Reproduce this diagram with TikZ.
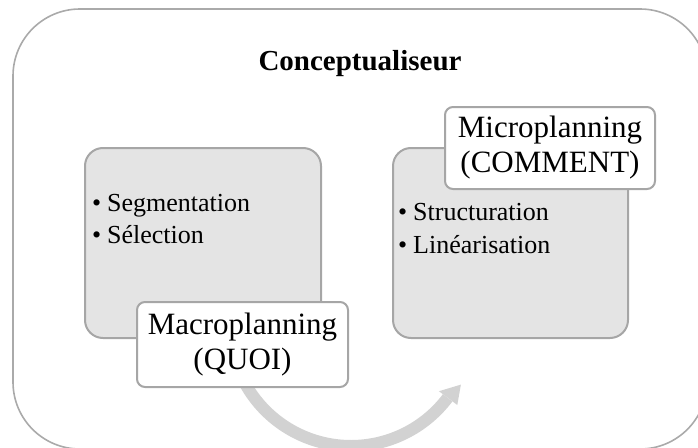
\documentclass[tikz,border=0pt]{standalone}
\usepackage{fontspec}
\setmainfont{Liberation Serif}
\definecolor{boxgray}{RGB}{228,228,228}
\definecolor{linegray}{RGB}{166,166,166}
\definecolor{outergray}{RGB}{170,170,170}
\definecolor{arrowgray}{RGB}{210,210,210}
\begin{document}
\begin{tikzpicture}[x=1pt,y=-1pt,
  outerbox/.style={draw=outergray, line width=1.6pt, rounded corners=67pt},
  graybox/.style={draw=linegray, fill=boxgray, line width=2pt, rounded corners=18pt, inner sep=0pt},
  whitebox/.style={draw=linegray, fill=white, line width=2pt, rounded corners=8pt, align=center, inner sep=0pt, font=\fontsize{31}{35}\selectfont},
  itemtext/.style={anchor=base west, inner sep=0pt, font=\fontsize{26}{32}\selectfont}]
\useasboundingbox (0,0) rectangle (698,447);
\clip (0,0) rectangle (698,447);
% outer frame
\draw[outerbox] (13,9) rectangle (707,449);
\node[anchor=base, inner sep=0pt, font=\fontsize{29}{34}\selectfont\bfseries] (title) at (360,70) {Conceptualiseur};
% circular arrow
\draw[arrowgray, line width=12pt] plot[domain=160:37, samples=80] ({351+121*cos(\x)},{325+121*sin(\x)});
\fill[arrowgray] (438.9,391.2) -- (460.9,384.6) -- (457.3,405) -- cycle;
% gray boxes
\node[graybox, minimum width=236pt, minimum height=190pt] (leftbox) at (203,243) {};
\node[graybox, minimum width=235pt, minimum height=190pt] (rightbox) at (510.5,243) {};
% bullet lists
\node[itemtext] (seg) at (92,211) {\makebox[15pt][l]{•}Segmentation};
\node[itemtext] (sel) at (92,243) {\makebox[15pt][l]{•}Sélection};
\node[itemtext] (struc) at (398,220) {\makebox[15pt][l]{•}Structuration};
\node[itemtext] (lin) at (398,253) {\makebox[15pt][l]{•}Linéarisation};
% white label boxes
\node[whitebox, minimum width=211pt, minimum height=85pt] (macro) at (242.5,344.5) {Macroplanning\\(QUOI)};
\node[whitebox, minimum width=210pt, minimum height=82pt] (micro) at (550,148) {Microplanning\\(COMMENT)};
\end{tikzpicture}
\end{document}
